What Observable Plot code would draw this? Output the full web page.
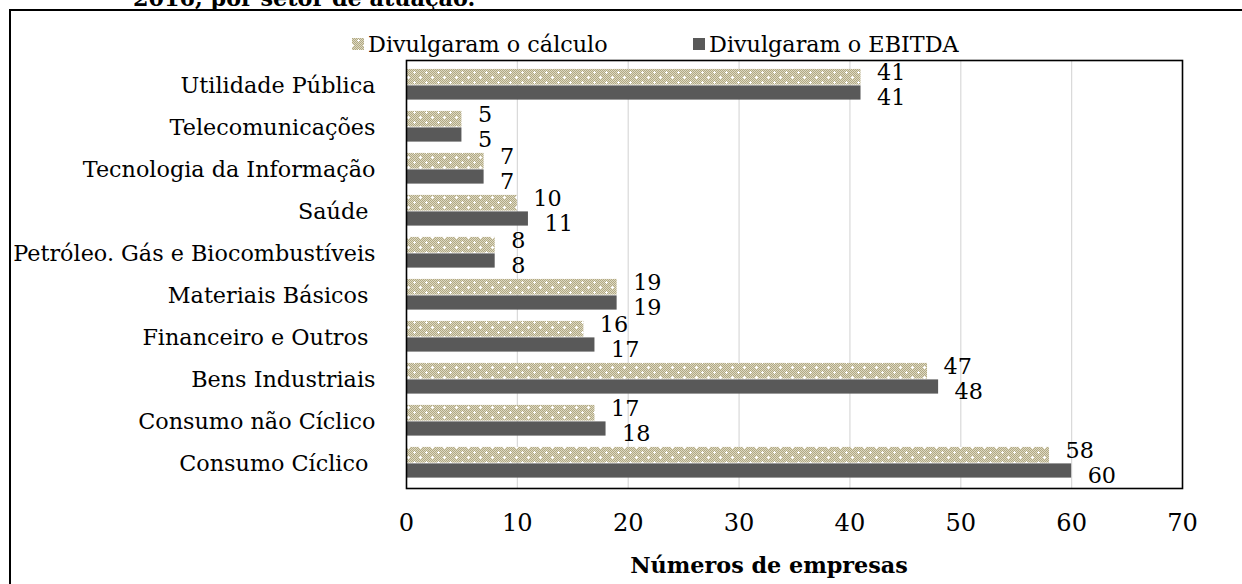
<!DOCTYPE html>
<html>
<head>
<meta charset="utf-8">
<script src="https://cdn.jsdelivr.net/npm/d3@7"></script>
<script src="https://cdn.jsdelivr.net/npm/@observablehq/plot@0.6"></script>
<style>
  html, body { margin: 0; padding: 0; background: #fff; }
  body { width: 1242px; height: 584px; position: relative; overflow: hidden; font-family: "DejaVu Serif", serif; color: #000; }
  #chart { position: absolute; left: 0; top: 0; }
  #chart svg text { white-space: pre; }
  .abs { position: absolute; white-space: pre; line-height: 1; }
  #outer { position: absolute; left: 9px; top: 9px; width: 1300px; height: 700px; border: 2px solid #000; box-sizing: border-box; }
  .leg { position: absolute; display: flex; align-items: center; white-space: pre; }
  .leg svg { margin-right: 4px; }
</style>
</head>
<body>
<div id="outer"></div>
<div id="chart"></div>
<div id="title" class="abs" style="font-weight:bold;">2016, por setor de atuação.</div>
<div id="leg1" class="leg"><svg width="12" height="12"><rect width="12" height="12" fill="url(#calcPattern)"/></svg><span>Divulgaram o cálculo</span></div>
<div id="leg2" class="leg"><svg width="12" height="12"><rect width="12" height="12" fill="#595959"/></svg><span>Divulgaram o EBITDA</span></div>
<div id="xtitle" class="abs" style="font-weight:bold;">Números de empresas</div>
<script>
const categories = ["Utilidade Pública", "Telecomunicações", "Tecnologia da Informação", "Saúde ", "Petróleo. Gás e Biocombustíveis", "Materiais Básicos ", "Financeiro e Outros ", "Bens Industriais", "Consumo não Cíclico", "Consumo Cíclico "];
const calculo = [41, 5, 7, 10, 8, 19, 16, 47, 17, 58];
const ebitda = [41, 5, 7, 11, 8, 19, 17, 48, 18, 60];
const seriesNames = ["Divulgaram o cálculo", "Divulgaram o EBITDA"];
const xTicks = [0, 10, 20, 30, 40, 50, 60, 70];
const xTitle = "Números de empresas";

const calcRows = categories.map((c, i) => ({setor: c, valor: calculo[i]}));
const ebitdaRows = categories.map((c, i) => ({setor: c, valor: ebitda[i]}));

// fit font size so the longest category label spans ~362px (Cambria-like width)
const cv = document.createElement("canvas").getContext("2d");
cv.font = "20px 'DejaVu Serif'";
const w20 = cv.measureText("Petróleo. Gás e Biocombustíveis").width;
const fs = Math.round(20 * 362 / w20 * 10) / 10;
const fsNum = Math.round(fs * 1.08 * 10) / 10;

const W = 1242, H = 584;
const mT = 60, mB = 96, mL = 406, mR = 60;
const band = (H - mT - mB) / categories.length;
const barH = 16;

const plot = Plot.plot({
  width: W, height: H,
  marginTop: mT, marginBottom: mB, marginLeft: mL, marginRight: mR,
  style: {fontFamily: "'DejaVu Serif', serif", fontSize: fs + "px", background: "transparent", color: "#000", overflow: "visible"},
  x: {domain: [0, 70]},
  y: {domain: categories, padding: 0},
  marks: [
    Plot.ruleX(xTicks.slice(1, -1), {stroke: "#d9d9d9", strokeWidth: 1.2}),
    Plot.barX(calcRows, {y: "setor", x: "valor", fill: "url(#calcPattern)", insetTop: band / 2 - barH - 0.5, insetBottom: band / 2}),
    Plot.barX(ebitdaRows, {y: "setor", x: "valor", fill: "#595959", insetTop: band / 2, insetBottom: band / 2 - barH + 1}),
    Plot.text(calcRows, {y: "setor", x: "valor", text: d => String(d.valor), textAnchor: "start", dx: 16, dy: -12.5, fill: "#000", fontSize: fs}),
    Plot.text(ebitdaRows, {y: "setor", x: "valor", text: d => String(d.valor), textAnchor: "start", dx: 16, dy: 12.5, fill: "#000", fontSize: fs}),
    Plot.frame({stroke: "#000", strokeWidth: 1.6}),
    Plot.axisX({ticks: xTicks, tickSize: 0, tickPadding: 25, label: null, fontSize: fsNum, tickFormat: d => String(d)}),
    Plot.axisY({tickSize: 0, tickPadding: 31, label: null, fontSize: fs})
  ]
});

// pattern definitions
const ns = "http://www.w3.org/2000/svg";
const defs = document.createElementNS(ns, "defs");
defs.innerHTML = `
  <pattern id="checker" patternUnits="userSpaceOnUse" width="2" height="2">
    <rect width="2" height="2" fill="#ddd8c2"/>
    <rect width="1" height="1" fill="#b1a983"/>
    <rect x="1" y="1" width="1" height="1" fill="#b1a983"/>
  </pattern>
  <pattern id="calcPattern" patternUnits="userSpaceOnUse" width="12" height="10">
    <rect width="12" height="10" fill="url(#checker)"/>
    <path d="M5 2.5h3M6.5 1v3" stroke="#fff" stroke-width="1"/>
    <path d="M-1 7.5h3M0.5 6v3M11 7.5h3M12.5 6v3" stroke="#fff" stroke-width="1"/>
  </pattern>`;
plot.insertBefore(defs, plot.firstChild);
document.getElementById("chart").appendChild(plot);

// HTML texts
const title = document.getElementById("title");
title.style.fontSize = fs + "px";
title.style.left = "133px";
title.style.top = (5 - fs * 0.8) + "px";

for (const [id, left] of [["leg1", 352], ["leg2", 693]]) {
  const el = document.getElementById(id);
  el.style.fontSize = fs + "px";
  el.style.left = left + "px";
  el.style.top = (45 - fs * 0.65) + "px";
}
const xt = document.getElementById("xtitle");
xt.style.fontSize = fs + "px";
const xtw = xt.getBoundingClientRect().width;
xt.style.left = (769 - xtw / 2) + "px";
xt.style.top = (566 - fs * 0.55) + "px";
</script>
</body>
</html>
